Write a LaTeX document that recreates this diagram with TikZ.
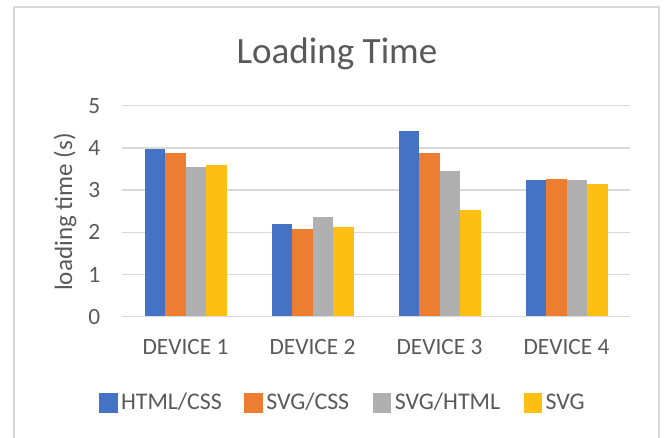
\documentclass[tikz,border=0pt]{standalone}
\usepackage{fontspec}
\setmainfont{Carlito}
\definecolor{txtgray}{HTML}{595959}
\definecolor{gridgray}{HTML}{D9D9D9}
\definecolor{serA}{HTML}{4472C4}
\definecolor{serB}{HTML}{ED7D31}
\definecolor{serC}{HTML}{B0B0B0}
\definecolor{serD}{HTML}{FDBF12}
\tikzset{
  gridline/.style={draw=gridgray, line width=1.1pt},
  frameline/.style={draw=gridgray, line width=1.1pt},
  ticklabel/.style={text=txtgray, font=\fontsize{17.5}{20}\selectfont, inner sep=0pt, anchor=east},
  catlabel/.style={text=txtgray, font=\fontsize{17.5}{20}\selectfont, inner sep=0pt, anchor=base},
  legendlabel/.style={text=txtgray, font=\fontsize{17.9}{20}\selectfont, inner sep=0pt, anchor=base west},
  charttitle/.style={text=txtgray, font=\fontsize{27.8}{32}\selectfont, inner sep=0pt, anchor=base},
  axistitle/.style={text=txtgray, font=\fontsize{18.8}{22}\selectfont, inner sep=0pt, rotate=90},
  legendkey/.style={inner sep=0pt, minimum width=13.8, minimum height=14.5},
}
\begin{document}
\begin{tikzpicture}[x=0.75pt, y=-0.75pt]
\useasboundingbox (0,0) rectangle (665,438);
% chart frame (open at the bottom edge)
\draw[frameline] (14,445) -- (14,7) -- (659,7) -- (659,445);

% horizontal gridlines and value labels
\foreach \v in {0,...,5} {
  \draw[gridline] (122,{316.7-42.2*\v}) -- (630,{316.7-42.2*\v});
  \node[ticklabel] (tick\v) at (100.5,{316.7-42.2*\v}) {\v};
}

% bars: category i, series j
\foreach \i/\a/\b/\c/\d in {0/3.98/3.89/3.55/3.60, 1/2.20/2.08/2.37/2.13, 2/4.40/3.87/3.46/2.54, 3/3.24/3.26/3.23/3.15} {
  \foreach \j/\val/\col in {0/\a/serA, 1/\b/serB, 2/\c/serC, 3/\d/serD} {
    \fill[\col] ({122+127*\i+22.5+20.6*\j},316.7) rectangle ({122+127*\i+22.5+20.6*(\j+1)},{316.7-42.2*\val});
  }
}
% baseline drawn on top of the bars
\draw[gridline] (122,316.7) -- (630,316.7);

% category labels
\node[catlabel] (cat1) at (185.5,355) {DEVICE 1};
\node[catlabel] (cat2) at (312.5,355) {DEVICE 2};
\node[catlabel] (cat3) at (439.5,355) {DEVICE 3};
\node[catlabel] (cat4) at (566.5,355) {DEVICE 4};

% titles
\node[charttitle] (title) at (337,63.3) {Loading Time};
\node[axistitle] (ytitle) at (65,212) {loading time (s)};

% legend
\node[legendkey, fill=serA] (keyA) at (108.4,403) {};
\node[legendlabel] (labA) at (120.8,410) {HTML/CSS};
\node[legendkey, fill=serB] (keyB) at (253.4,403) {};
\node[legendlabel] (labB) at (266.0,410) {SVG/CSS};
\node[legendkey, fill=serC] (keyC) at (381.8,403) {};
\node[legendlabel] (labC) at (394.6,410) {SVG/HTML};
\node[legendkey, fill=serD] (keyD) at (532.8,403) {};
\node[legendlabel] (labD) at (545.4,410) {SVG};
\end{tikzpicture}
\end{document}
